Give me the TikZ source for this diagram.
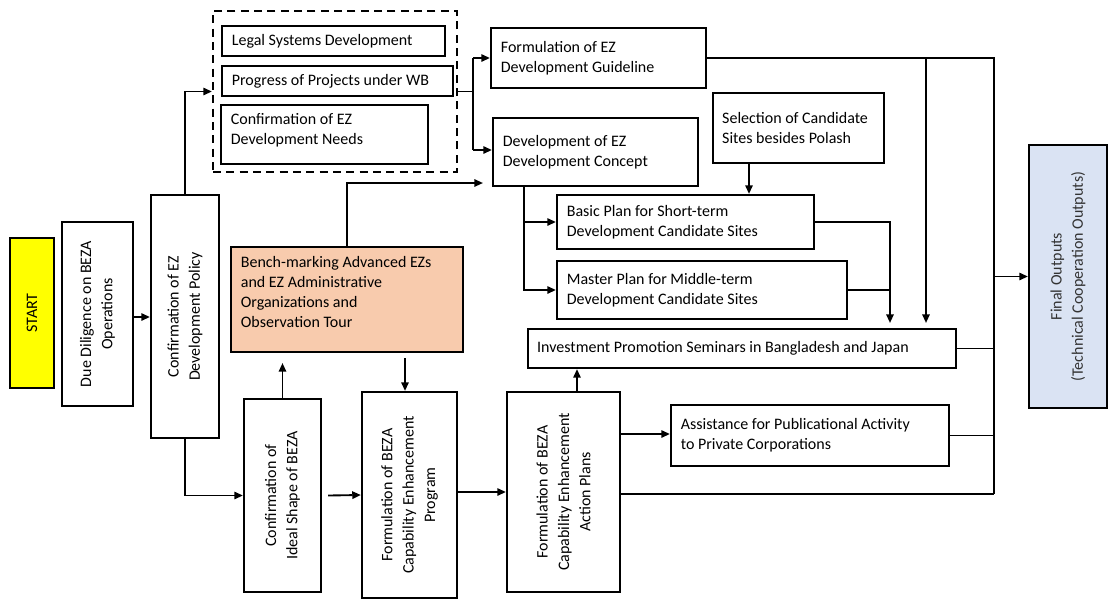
\documentclass[tikz,border=0pt]{standalone}
\usepackage{fontspec}
\setmainfont{Carlito}
\usetikzlibrary{arrows.meta}
\definecolor{benchfill}{HTML}{F8CBAD}
\definecolor{finalfill}{HTML}{DAE3F3}
\definecolor{startfill}{HTML}{FFFF00}
\begin{document}
\begin{tikzpicture}[x=0.75pt,y=-0.75pt,
  box/.style={draw, line width=1.6pt, inner sep=0pt},
  lbl/.style={inner sep=0pt, anchor=west, align=left, font=\fontsize{12}{15}\selectfont},
  vlbl/.style={inner sep=0pt, rotate=90, align=center, font=\fontsize{12}{16}\selectfont},
  conn/.style={line width=1.4pt},
  arr/.style={conn, -{Triangle[length=6.5pt,width=5.5pt]}},
]
\useasboundingbox (0,0) rectangle (1108,601);

% ---- boxes ----
\node[box, fill=startfill, minimum width=33pt, minimum height=112.5pt] (start) at (32,313) {};
\node[vlbl] (start-t) at (start) {START};

\node[box, minimum width=53.25pt, minimum height=138pt] (due) at (97.5,314) {};
\node[vlbl] (due-t) at (due) {Due Diligence on BEZA\\Operations};

\node[box, minimum width=51pt, minimum height=182.25pt] (pol) at (185,316.5) {};
\node[vlbl] (pol-t) at (pol) {Confirmation of EZ\\Development Policy};

\node[box, dash pattern=on 6pt off 4pt, minimum width=183pt, minimum height=120.75pt] (grp) at (335,91.5) {};

\node[box, minimum width=167.25pt, minimum height=22.5pt] (legal) at (333.5,41) {};
\node[lbl] (legal-t) at ([xshift=8pt]legal.west) {Legal Systems Development};

\node[box, minimum width=173.25pt, minimum height=22.5pt] (prog) at (337.5,81) {};
\node[lbl] (prog-t) at ([xshift=8pt]prog.west) {Progress of Projects under WB};

\node[box, minimum width=155.25pt, minimum height=44.25pt] (needs) at (324.5,134.5) {};
\node[lbl] (needs-t) at ([xshift=8pt,yshift=3.4pt]needs.west) {Confirmation of EZ\\Development Needs};

\node[box, minimum width=161.25pt, minimum height=45pt] (guide) at (598.5,58) {};
\node[lbl] (guide-t) at ([xshift=8pt]guide.west) {Formulation of EZ\\Development Guideline};

\node[box, minimum width=153.75pt, minimum height=51pt] (concept) at (595.5,152) {};
\node[lbl] (concept-t) at ([xshift=8pt]concept.west) {Development of EZ\\Development Concept};

\node[box, minimum width=128.25pt, minimum height=52.5pt] (select) at (798.5,128) {};
\node[lbl] (select-t) at ([xshift=7.5pt]select.west) {Selection of Candidate\\Sites besides Polash};

\node[box, minimum width=192.75pt, minimum height=40.5pt] (basic) at (685.5,222) {};
\node[lbl] (basic-t) at ([xshift=8pt]basic.west) {Basic Plan for Short-term\\Development Candidate Sites};

\node[box, minimum width=217.5pt, minimum height=43.5pt] (master) at (702,290) {};
\node[lbl] (master-t) at ([xshift=8pt]master.west) {Master Plan for Middle-term\\Development Candidate Sites};

\node[box, minimum width=321pt, minimum height=29.25pt] (invest) at (742,348.5) {};
\node[lbl] (invest-t) at ([xshift=7.5pt]invest.west) {Investment Promotion Seminars in Bangladesh and Japan};

\node[box, fill=benchfill, minimum width=174pt, minimum height=78.75pt] (bench) at (347,299.5) {};
\node[lbl] (bench-t) at ([xshift=8pt,yshift=5.6pt]bench.west) {Bench-marking Advanced EZs\\and EZ Administrative\\Organizations and\\Observation Tour};

\node[box, minimum width=57.75pt, minimum height=144.75pt] (ideal) at (282.5,495.5) {};
\node[vlbl] (ideal-t) at (ideal) {Confirmation of\\Ideal Shape of BEZA};

\node[box, minimum width=71.25pt, minimum height=154.5pt] (program) at (409.5,495) {};
\node[vlbl] (program-t) at (program) {Formulation of BEZA\\Capability Enhancement\\Program};

\node[box, minimum width=84.75pt, minimum height=150pt] (action) at (563.5,492) {};
\node[vlbl] (action-t) at (action) {Formulation of BEZA\\Capability Enhancement\\Action Plans};

\node[box, minimum width=208.5pt, minimum height=45.75pt] (assist) at (810,435.5) {};
\node[lbl] (assist-t) at ([xshift=8pt]assist.west) {Assistance for Publicational Activity\\to Private Corporations};

\node[box, fill=finalfill, minimum width=58.5pt, minimum height=197.25pt] (final) at (1068,276.5) {};
\node[vlbl, text=black!80] (final-t) at (final) {Final Outputs\\(Technical Cooperation Outputs)};

% ---- helper coordinates ----
\coordinate (d1) at (0,317);
\coordinate (j) at (473,91.5);
\coordinate (jt) at (473,58);
\coordinate (jb) at (473,150);
\coordinate (bc) at (483,183);
\coordinate (rt) at (994,58);
\coordinate (rm) at (994,276.5);
\coordinate (rb) at (994,494);
\coordinate (v1t) at (926,58);
\coordinate (v1b) at (926,323);
\coordinate (s1) at (749,0);
\coordinate (c2) at (524,0);
\coordinate (m1) at (890,323);
\coordinate (a1) at (577,0);
\coordinate (i1) at (282.5,363);
\coordinate (p1) at (405,358);
\coordinate (q) at (0,434);

% ---- connectors ----
\draw[arr] (due.east |- d1) -- (pol.west |- d1);
\draw[arr] (pol.north) |- (grp.west);
\draw[conn] (grp.east) -- (j);
\draw[conn] (jt) -- (jb);
\draw[arr] (jt) -- (guide.west |- jt);
\draw[arr] (jb) -- (concept.west |- jb);
\draw[arr] (bench.north) |- (bc);
\draw[conn] (guide.east) -- (rt) -- (rb);
\draw[arr] (v1t) -- (v1b);
\draw[arr] (rm) -- (final.west);
\draw[arr] (select.south -| s1) -- (basic.north -| s1);
\draw[arr] (concept.south -| c2) |- (master.west);
\draw[arr] (basic.west -| c2) -- (basic.west);
\draw[arr] (basic.east) -| (m1);
\draw[conn] (master.east) -- (master.east -| m1);
\draw[conn] (invest.east) -- (invest.east -| rt);
\draw[arr] (action.north -| a1) -- (invest.south -| a1);
\draw[arr] (ideal.north) -- (i1);
\draw[arr] (p1) -- (program.north -| p1);
\draw[arr] (pol.south) |- (ideal.west);
\draw[arr] ([xshift=4.5pt]ideal.east) -- (program.west);
\draw[arr] (program.east |- action.west) -- (action.west);
\draw[arr] (action.east |- q) -- (assist.west |- q);
\draw[conn] (assist.east) -- (assist.east -| rt);
\draw[conn] (action.east |- rb) -- (rb);
\end{tikzpicture}
\end{document}
